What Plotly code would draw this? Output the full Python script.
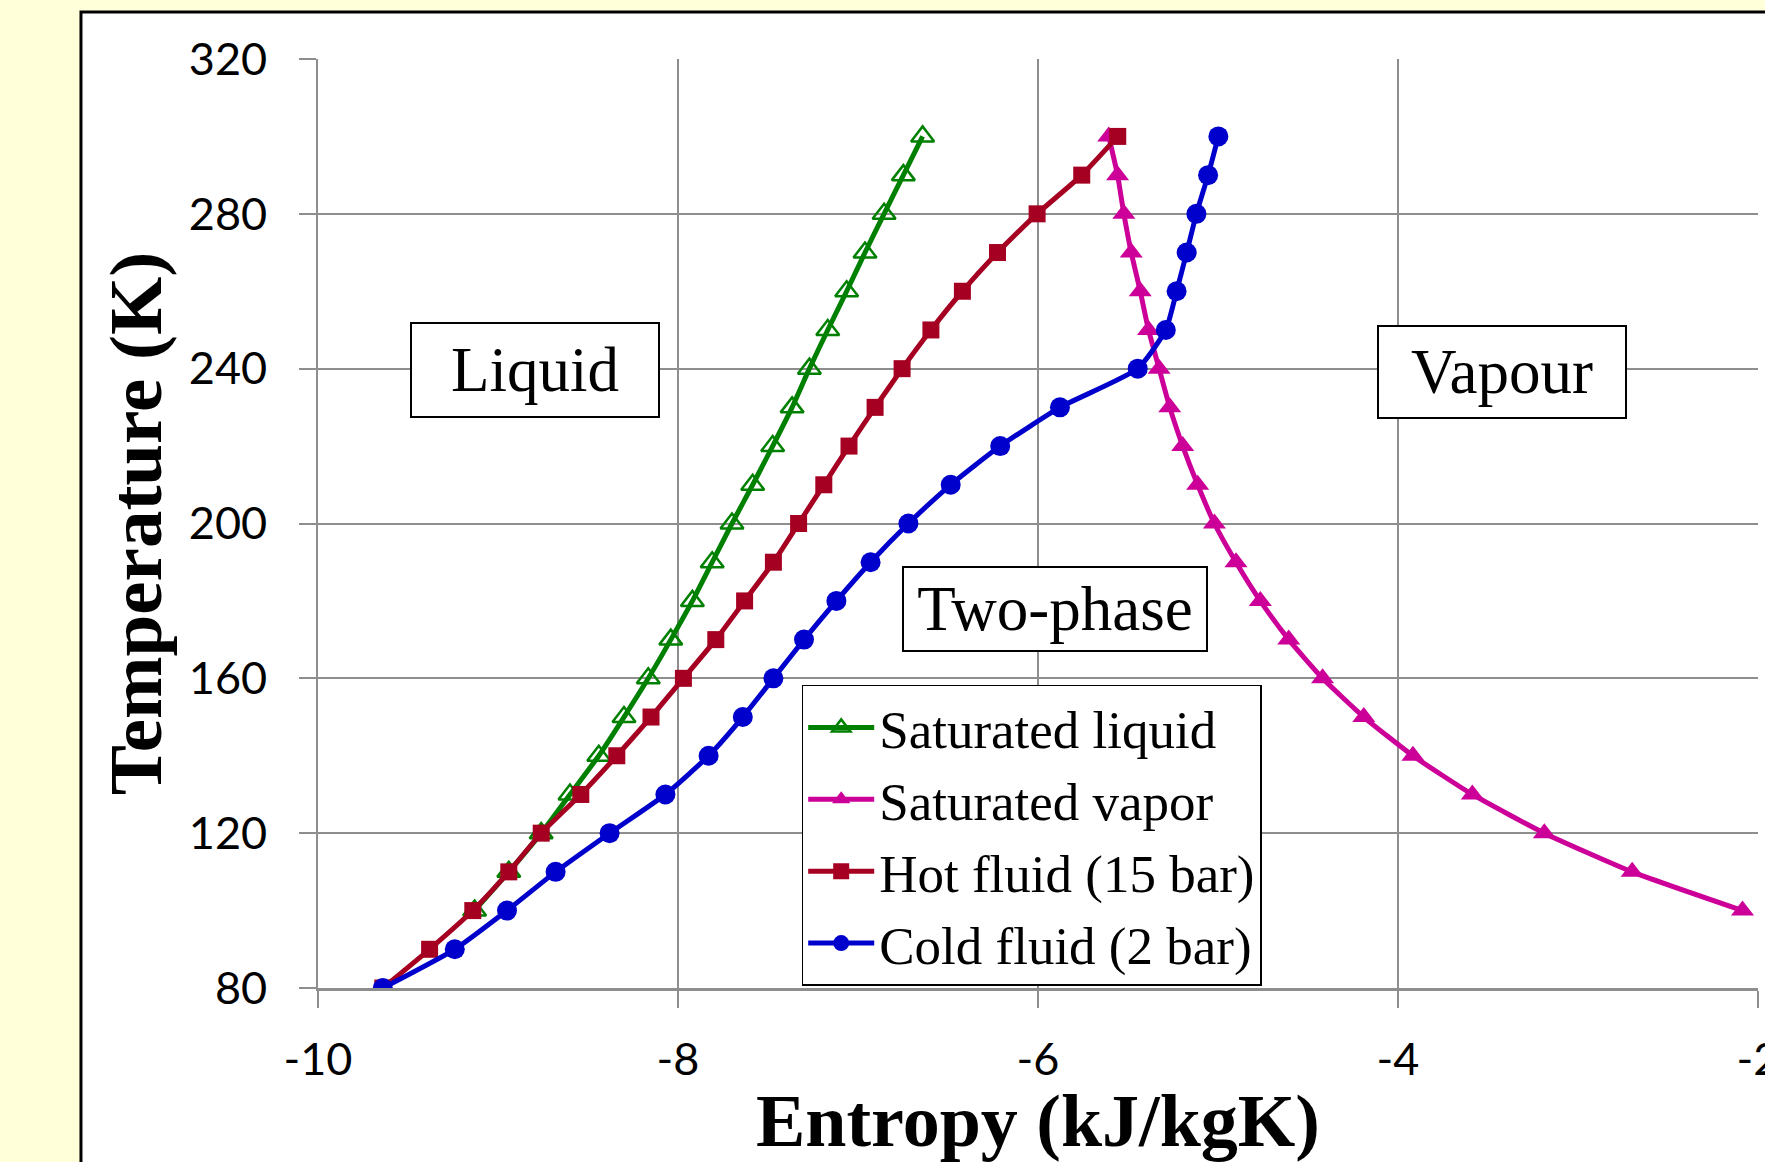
import plotly.graph_objects as go

# ---------------- data ----------------
T_sat = [100, 110, 120, 130, 140, 150, 160, 170, 180, 190, 200,
         210, 220, 230, 240, 250, 260, 270, 280, 290, 300]
S_sat_liquid = [-9.13, -8.94, -8.76, -8.60, -8.44, -8.30, -8.165, -8.04, -7.92, -7.81, -7.70,
                -7.585, -7.474, -7.366, -7.27, -7.168, -7.063, -6.961, -6.855, -6.748, -6.641]
S_sat_vapor = [-2.086, -2.699, -3.187, -3.587, -3.917, -4.19, -4.419, -4.607, -4.765, -4.90, -5.02,
               -5.113, -5.196, -5.268, -5.327, -5.386, -5.432, -5.482, -5.523, -5.558, -5.607]

T_fluid = [80, 90, 100, 110, 120, 130, 140, 150, 160, 170, 180, 190,
           200, 210, 220, 230, 240, 250, 260, 270, 280, 290, 300]
S_hot = [-9.64, -9.38, -9.14, -8.94, -8.76, -8.54, -8.34, -8.15, -7.97, -7.79, -7.63, -7.47,
         -7.33, -7.19, -7.05, -6.905, -6.755, -6.595, -6.42, -6.225, -6.005, -5.757, -5.557]
S_cold = [-9.64, -9.24, -8.95, -8.68, -8.38, -8.07, -7.83, -7.64, -7.47, -7.30, -7.12, -6.93,
          -6.72, -6.485, -6.21, -5.878, -5.446, -5.29, -5.23, -5.174, -5.12, -5.055, -4.998]

series_names = ["Saturated liquid", "Saturated vapor", "Hot fluid (15 bar)", "Cold fluid (2 bar)"]

x_tick_vals = [-10, -8, -6, -4, -2]
x_tick_text = ["-10", "-8", "-6", "-4", "-2"]
y_tick_vals = [80, 120, 160, 200, 240, 280, 320]

region_labels = ["Liquid", "Vapour", "Two-phase"]
region_s = [-8.794, -3.424, -5.906]
region_T = [239.6, 239.2, 178.0]

# ---------------- figure ----------------
SERIF = "Liberation Serif"
TICKFONT = "Lato"
GRID = "#8e8e8e"

fig = go.Figure()

fig.add_trace(go.Scatter(
    x=S_sat_liquid, y=T_sat, name=series_names[0], mode="lines+markers",
    line=dict(color="#008000", width=5, shape="spline", smoothing=0.5),
    marker=dict(symbol="triangle-up-open", size=20, color="#008000", line=dict(width=2.5, color="#008000")),
))
fig.add_trace(go.Scatter(
    x=S_sat_vapor, y=T_sat, name=series_names[1], mode="lines+markers",
    line=dict(color="#CC0099", width=5, shape="spline", smoothing=0.5),
    marker=dict(symbol="triangle-up", size=20, color="#CC0099"),
))
fig.add_trace(go.Scatter(
    x=S_hot, y=T_fluid, name=series_names[2], mode="lines+markers",
    line=dict(color="#A50021", width=5, shape="spline", smoothing=0.5),
    marker=dict(symbol="square", size=17, color="#A50021"),
))
fig.add_trace(go.Scatter(
    x=S_cold, y=T_fluid, name=series_names[3], mode="lines+markers",
    line=dict(color="#0000CC", width=5, shape="spline", smoothing=0.5),
    marker=dict(symbol="circle", size=20, color="#0000CC"),
))

# outer white chart box with black border (extends past right/bottom edges)
fig.add_shape(type="rect", xref="paper", yref="paper",
              x0=-0.1646, x1=1.2, y0=-0.4, y1=1.0506,
              fillcolor="white", line=dict(color="black", width=3), layer="below")

box_sizes = [(246, 92), (246, 90), (302, 82)]
for lab, sx, ty, (w, h) in zip(region_labels, region_s, region_T, box_sizes):
    fig.add_annotation(x=sx, y=ty, xref="x", yref="y", text=lab, showarrow=False,
                       xanchor="center", yanchor="middle", width=w, height=h,
                       align="center", valign="middle",
                       font=dict(family=SERIF, size=63, color="black"),
                       bgcolor="white", bordercolor="black", borderwidth=2, borderpad=0)

fig.update_xaxes(
    range=[-10, -2], tickvals=x_tick_vals, ticktext=x_tick_text, automargin=False,
    showgrid=True, gridcolor=GRID, gridwidth=1.75,
    showline=True, linecolor=GRID, linewidth=3,
    ticks="outside", ticklen=17, tickwidth=1.75, tickcolor=GRID,
    tickfont=dict(family=TICKFONT, size=45, color="black"),
    ticklabelstandoff=13, ticklabeloverflow="allow", zeroline=False,
    title=dict(text="<b>Entropy (kJ/kgK)</b>", font=dict(family=SERIF, size=74, color="black"), standoff=14),
)
fig.update_yaxes(
    range=[80, 320], tickvals=y_tick_vals, automargin=False,
    showgrid=True, gridcolor=GRID, gridwidth=1.75,
    showline=True, linecolor=GRID, linewidth=1.75,
    ticks="outside", ticklen=17, tickwidth=1.75, tickcolor=GRID,
    tickfont=dict(family=TICKFONT, size=45, color="black"),
    ticklabelstandoff=23, ticklabeloverflow="allow", zeroline=False,
    title=dict(text="<b>Temperature (K)</b>", font=dict(family=SERIF, size=75, color="black"), standoff=3),
)

fig.update_layout(
    width=1765, height=1162,
    margin=dict(l=318, r=7, t=59, b=174, pad=0, autoexpand=False),
    paper_bgcolor="#FFFFD9", plot_bgcolor="white",
    legend=dict(x=0.3359, y=0.3262, xanchor="left", yanchor="top",
                bgcolor="white", bordercolor="black", borderwidth=1.5,
                font=dict(family=SERIF, size=53, color="black"),
                itemwidth=66, itemsizing="trace", tracegroupgap=0),
)

fig.write_html("out.html", config={"displayModeBar": False},
               post_script="document.body.style.margin='0';document.body.style.overflow='hidden';document.body.style.background='#FFFFD9';")
